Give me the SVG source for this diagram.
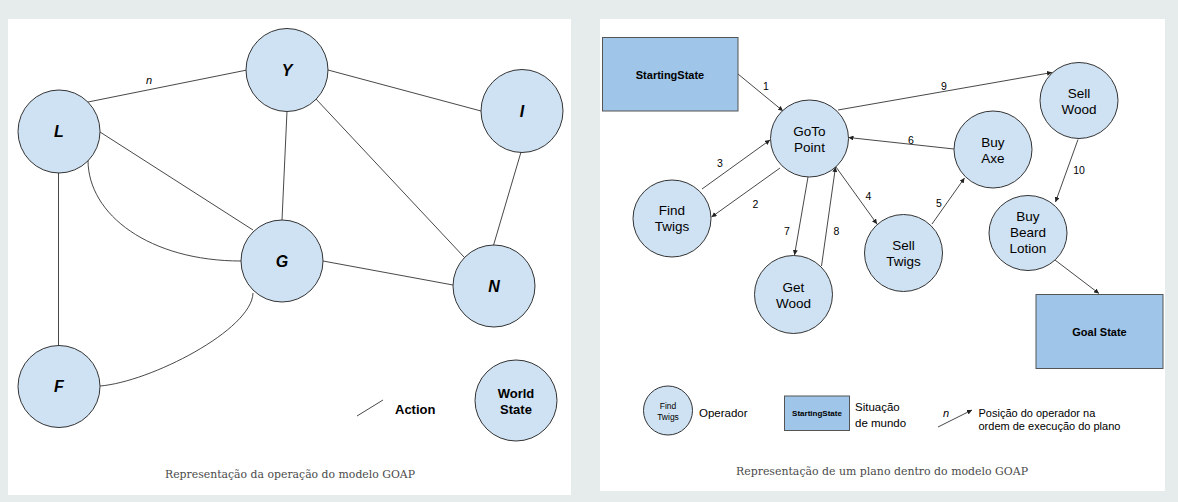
<svg xmlns="http://www.w3.org/2000/svg" width="1178" height="502" viewBox="0 0 1178 502">
<defs>
<marker id="ah" viewBox="0 0 10 10" refX="10" refY="5" markerWidth="5" markerHeight="5" markerUnits="userSpaceOnUse" orient="auto"><path d="M0,0 L10,5 L0,10 z" fill="#222"/></marker>
<style>
.node{fill:#cfe2f3;stroke:#333;stroke-width:1}
.box{fill:#9fc5e8;stroke:#555;stroke-width:1}
.edge{fill:none;stroke:#333;stroke-width:0.9}
.arr{fill:none;stroke:#333;stroke-width:0.9;marker-end:url(#ah)}
.big{font-family:"Liberation Sans",Arial,sans-serif;font-weight:bold;font-style:italic;font-size:16px;fill:#000;text-anchor:middle;dominant-baseline:central}
.bold{font-family:"Liberation Sans",Arial,sans-serif;font-weight:bold;fill:#000;text-anchor:middle;dominant-baseline:central}
.lbl{font-family:"Liberation Sans",Arial,sans-serif;font-size:13.5px;fill:#000;text-anchor:middle;dominant-baseline:central}
.num{font-family:"Liberation Sans",Arial,sans-serif;font-size:10.5px;fill:#000;text-anchor:middle;dominant-baseline:central}
.leg{font-family:"Liberation Sans",Arial,sans-serif;font-size:11px;fill:#000;dominant-baseline:central}
.cap{font-family:"DejaVu Serif","Liberation Serif",serif;font-size:11.5px;fill:#4a4a4a;text-anchor:middle;dominant-baseline:central}
</style>
</defs>
<rect x="0" y="0" width="1178" height="502" fill="#e6ebeb"/>
<rect x="8" y="19" width="563" height="476" fill="#ffffff"/>
<rect x="600" y="19" width="565" height="472" fill="#ffffff"/>

<g id="left-connectors">
<line class="edge" x1="88" y1="102" x2="247" y2="70"/>
<line class="edge" x1="328" y1="70" x2="481" y2="111"/>
<line class="edge" x1="287" y1="111" x2="282" y2="220"/>
<line class="edge" x1="316" y1="99" x2="464" y2="257"/>
<line class="edge" x1="521" y1="152" x2="493" y2="247"/>
<line class="edge" x1="100" y1="132" x2="253" y2="230"/>
<path class="edge" d="M88,160 C88,215 150,261 241,261"/>
<line class="edge" x1="323" y1="261" x2="453" y2="285"/>
<line class="edge" x1="58.5" y1="173" x2="58.5" y2="346"/>
<path class="edge" d="M100,386 C150,382 252,330 253,293"/>
<text x="149" y="80" class="leg" style="font-style:italic;text-anchor:middle">n</text>
</g>

<g id="node-Y"><ellipse class="node" cx="287" cy="70" rx="41" ry="41.5"/><text x="287" y="70" class="big">Y</text></g>
<g id="node-L"><ellipse class="node" cx="59" cy="131.5" rx="41" ry="41.5"/><text x="59" y="131.5" class="big">L</text></g>
<g id="node-I"><ellipse class="node" cx="522" cy="111" rx="41" ry="41.5"/><text x="522" y="111" class="big">I</text></g>
<g id="node-G"><ellipse class="node" cx="282" cy="261" rx="41" ry="41"/><text x="282" y="261" class="big">G</text></g>
<g id="node-N"><ellipse class="node" cx="494" cy="286" rx="41" ry="41"/><text x="494" y="286" class="big">N</text></g>
<g id="node-F"><ellipse class="node" cx="59" cy="386.5" rx="41" ry="41"/><text x="59" y="386.5" class="big">F</text></g>
<g id="node-WorldState"><ellipse class="node" cx="516" cy="400.5" rx="41" ry="40.5"/><text x="516" y="393" class="bold" font-size="13">World</text><text x="516" y="409" class="bold" font-size="13">State</text></g>
<g id="legend-action"><line class="edge" x1="357" y1="416" x2="383" y2="400"/><text x="395" y="409.5" class="bold" font-size="13" style="text-anchor:start">Action</text></g>
<text x="290" y="474" class="cap" textLength="250" lengthAdjust="spacingAndGlyphs">Representação da operação do modelo GOAP</text>

<g id="right-connectors">
<line class="arr" x1="738" y1="74" x2="783" y2="111"/>
<line class="arr" x1="838" y1="110" x2="1052" y2="72.5"/>
<line class="arr" x1="954" y1="149" x2="848.5" y2="137.5"/>
<line class="arr" x1="702" y1="189" x2="770" y2="140"/>
<line class="arr" x1="780" y1="168" x2="711.5" y2="217"/>
<line class="arr" x1="808" y1="177" x2="794.5" y2="255"/>
<line class="arr" x1="821.5" y1="266" x2="835.5" y2="167"/>
<line class="arr" x1="836" y1="167" x2="877" y2="224"/>
<line class="arr" x1="932" y1="224" x2="964.5" y2="178"/>
<line class="arr" x1="1078" y1="139.5" x2="1055.5" y2="202"/>
<line class="arr" x1="1055" y1="260" x2="1099" y2="293.5"/>
<text x="766" y="86" class="num">1</text>
<text x="944" y="85.5" class="num">9</text>
<text x="911" y="139.5" class="num">6</text>
<text x="720" y="162.5" class="num">3</text>
<text x="755.5" y="204" class="num">2</text>
<text x="787" y="230.5" class="num">7</text>
<text x="836.5" y="230.5" class="num">8</text>
<text x="868.5" y="196" class="num">4</text>
<text x="939" y="202.5" class="num">5</text>
<text x="1079" y="170" class="num">10</text>
</g>

<g id="node-StartingState"><rect class="box" x="602.5" y="37.5" width="135.5" height="73.5"/><text x="670" y="74.5" class="bold" font-size="11">StartingState</text></g>
<g id="node-GoToPoint"><ellipse class="node" cx="809.5" cy="138.5" rx="39" ry="38.5"/><text x="809.5" y="131" class="lbl">GoTo</text><text x="809.5" y="147" class="lbl">Point</text></g>
<g id="node-SellWood"><ellipse class="node" cx="1079" cy="100.5" rx="39" ry="38"/><text x="1079" y="93" class="lbl">Sell</text><text x="1079" y="109" class="lbl">Wood</text></g>
<g id="node-BuyAxe"><ellipse class="node" cx="993" cy="149.5" rx="39" ry="38.5"/><text x="993" y="142.5" class="lbl">Buy</text><text x="993" y="158.5" class="lbl">Axe</text></g>
<g id="node-FindTwigs"><ellipse class="node" cx="672" cy="218.5" rx="39" ry="38.5"/><text x="672" y="210.5" class="lbl">Find</text><text x="672" y="226.5" class="lbl">Twigs</text></g>
<g id="node-SellTwigs"><ellipse class="node" cx="903.5" cy="253" rx="39" ry="38.5"/><text x="903.5" y="245" class="lbl">Sell</text><text x="903.5" y="261.5" class="lbl">Twigs</text></g>
<g id="node-BuyBeardLotion"><ellipse class="node" cx="1028" cy="233" rx="39" ry="37.5"/><text x="1028" y="216.5" class="lbl">Buy</text><text x="1028" y="232.5" class="lbl">Beard</text><text x="1028" y="248" class="lbl">Lotion</text></g>
<g id="node-GetWood"><ellipse class="node" cx="793.5" cy="294.5" rx="39" ry="39"/><text x="793.5" y="287.5" class="lbl">Get</text><text x="793.5" y="303.5" class="lbl">Wood</text></g>
<g id="node-GoalState"><rect class="box" x="1036" y="294.5" width="127" height="74"/><text x="1099.5" y="332" class="bold" font-size="11">Goal State</text></g>

<g id="legend-operador"><ellipse class="node" cx="668" cy="410.5" rx="24.5" ry="24.5"/><text x="668" y="405.5" class="num" style="font-size:8.5px">Find</text><text x="668" y="416.5" class="num" style="font-size:8.5px">Twigs</text><text x="699" y="413" class="leg" style="font-size:11.5px">Operador</text></g>
<g id="legend-situacao"><rect class="box" x="784.5" y="396" width="65" height="34.5"/><text x="817" y="413" class="bold" font-size="8">StartingState</text><text x="855" y="407" class="leg" style="font-size:11.5px">Situação</text><text x="855" y="422.5" class="leg" style="font-size:11.5px">de mundo</text></g>
<g id="legend-posicao"><text x="946" y="413" class="leg" style="font-style:italic;text-anchor:middle">n</text><line class="arr" x1="938" y1="427" x2="972" y2="410"/><text x="978.5" y="413" class="leg">Posição do operador na</text><text x="978.5" y="426" class="leg">ordem de execução do plano</text></g>
<text x="882" y="471" class="cap" textLength="292" lengthAdjust="spacingAndGlyphs">Representação de um plano dentro do modelo GOAP</text>
</svg>
